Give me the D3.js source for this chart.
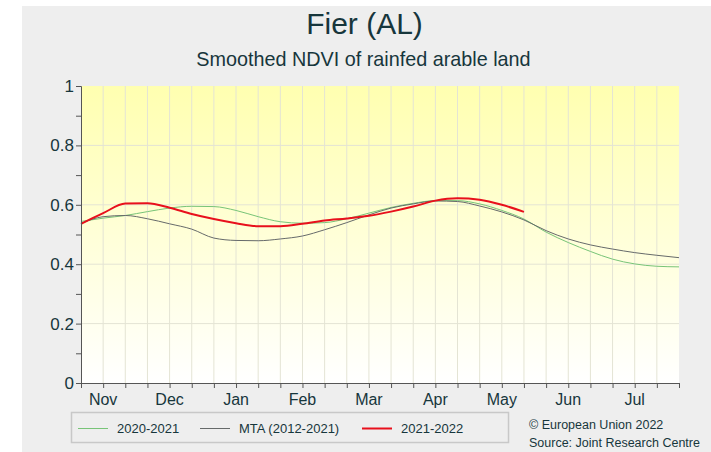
<!DOCTYPE html>
<html>
<head>
<meta charset="utf-8">
<script src="https://cdn.jsdelivr.net/npm/d3@7"></script>
<style>
  body { margin: 0; background: #fff; }
  text { font-family: "Liberation Sans", Arial, sans-serif; fill: #17363c; }
</style>
</head>
<body>
<svg id="chart" width="711" height="452"></svg>
<script>
// dekads Nov (1st) .. Jul (3rd), index 0..27
const months = ["Nov", "Dec", "Jan", "Feb", "Mar", "Apr", "May", "Jun", "Jul"];
const yTicks = [0, 0.2, 0.4, 0.6, 0.8, 1];

const season2021 = [0.544, 0.555, 0.564, 0.577, 0.589, 0.595, 0.594, 0.581, 0.560, 0.543,
    0.538, 0.540, 0.553, 0.572, 0.591, 0.605, 0.614, 0.614, 0.603, 0.581,
    0.552, 0.508, 0.473, 0.443, 0.417, 0.401, 0.393, 0.391];
const mta = [0.537, 0.560, 0.564, 0.553, 0.536, 0.518, 0.488, 0.480, 0.479, 0.485,
    0.495, 0.516, 0.540, 0.566, 0.589, 0.603, 0.613, 0.611, 0.596, 0.576,
    0.549, 0.513, 0.485, 0.465, 0.451, 0.439, 0.430, 0.422];
const season2022 = [0.536, 0.572, 0.604, 0.605, 0.590, 0.569, 0.552, 0.538, 0.528, 0.528,
    0.536, 0.547, 0.554, 0.563, 0.577, 0.594, 0.614, 0.622, 0.617, 0.600, 0.576];

const series = [
    { name: "2020-2021", values: season2021, color: "#78c478", width: 1 },
    { name: "MTA (2012-2021)", values: mta, color: "#666a6a", width: 1 },
    { name: "2021-2022", values: season2022, color: "#e8101c", width: 2 }
];

const svg = d3.select("#chart");
const margin = { left: 81, right: 32, top: 86, bottom: 69 };
const width = 711 - margin.left - margin.right;
const height = 452 - margin.top - margin.bottom;

svg.append("rect").attr("x", 22).attr("y", 6).attr("width", 711 - 22).attr("height", 452 - 6)
    .attr("fill", "#eeeeee");

svg.append("text").attr("x", 364.5).attr("y", 34).attr("text-anchor", "middle")
    .style("font-size", "30px").text("Fier (AL)");
svg.append("text").attr("x", 363.5).attr("y", 66).attr("text-anchor", "middle")
    .style("font-size", "19.8px").text("Smoothed NDVI of rainfed arable land");

const x = d3.scaleLinear().domain([0, 27]).range([0, width]);
const y = d3.scaleLinear().domain([0, 1]).range([height, 0]);

const defs = svg.append("defs");
const grad = defs.append("linearGradient").attr("id", "bg").attr("x1", 0).attr("x2", 0).attr("y1", 0).attr("y2", 1);
grad.append("stop").attr("offset", "0%").attr("stop-color", "#ffffb0");
grad.append("stop").attr("offset", "100%").attr("stop-color", "#ffffff");

const g = svg.append("g").attr("transform", `translate(${margin.left},${margin.top})`);
g.append("rect").attr("width", width).attr("height", height).attr("fill", "url(#bg)");

// grid
g.append("g").selectAll("line").data(d3.range(1, 27)).join("line")
    .attr("x1", d => x(d)).attr("x2", d => x(d)).attr("y1", 0).attr("y2", height)
    .attr("stroke", "#e4e4d4").attr("stroke-width", 1);
g.append("g").selectAll("line").data(yTicks.slice(1, -1)).join("line")
    .attr("x1", 0).attr("x2", width).attr("y1", d => y(d)).attr("y2", d => y(d))
    .attr("stroke", "#e4e4d4").attr("stroke-width", 1);

// lines
const line = d3.line().x((d, i) => x(i)).y(d => y(d)).curve(d3.curveMonotoneX);
series.forEach(s => {
    g.append("path").datum(s.values).attr("d", line)
        .attr("fill", "none").attr("stroke", s.color).attr("stroke-width", s.width);
});

// y axis
const yAxis = g.append("g").call(d3.axisLeft(y).tickValues(d3.range(0, 1.01, 0.1)).tickSize(5)
    .tickFormat(d => { const r = Math.round(d * 10); return r % 2 === 0 ? d3.format("~g")(r / 10) : ""; }));
yAxis.select(".domain").attr("stroke", "#555");
yAxis.selectAll(".tick line").attr("stroke", "#555");
yAxis.selectAll(".tick text").style("font-size", "17px").attr("x", -7).attr("fill", "#17363c");

// x axis
const xAxis = g.append("g").attr("transform", `translate(0,${height})`)
    .call(d3.axisBottom(x).tickValues(d3.range(0, 28)).tickSize(5).tickFormat(""));
xAxis.select(".domain").attr("stroke", "#555");
xAxis.selectAll(".tick line").attr("stroke", "#555");
g.append("g").selectAll("text").data(months).join("text")
    .attr("x", (d, i) => x(i * 3 + 1)).attr("y", height + 22).attr("text-anchor", "middle")
    .style("font-size", "16px").text(d => d);

// legend
const lg = svg.append("g");
lg.append("rect").attr("x", 71.5).attr("y", 412.5).attr("width", 437).attr("height", 30)
    .attr("fill", "none").attr("stroke", "#c8c8c8").attr("stroke-width", 1.5);
const legendX = [78, 200, 362];
series.forEach((s, i) => {
    lg.append("line").attr("x1", legendX[i]).attr("x2", legendX[i] + 30).attr("y1", 428.5).attr("y2", 428.5)
        .attr("stroke", s.color).attr("stroke-width", s.width);
    lg.append("text").attr("x", legendX[i] + 39).attr("y", 433).style("font-size", "13px").text(s.name);
});

svg.append("text").attr("x", 529).attr("y", 429).style("font-size", "12.5px").text("© European Union 2022");
svg.append("text").attr("x", 529).attr("y", 447).style("font-size", "12.5px").text("Source: Joint Research Centre");
</script>
</body>
</html>
